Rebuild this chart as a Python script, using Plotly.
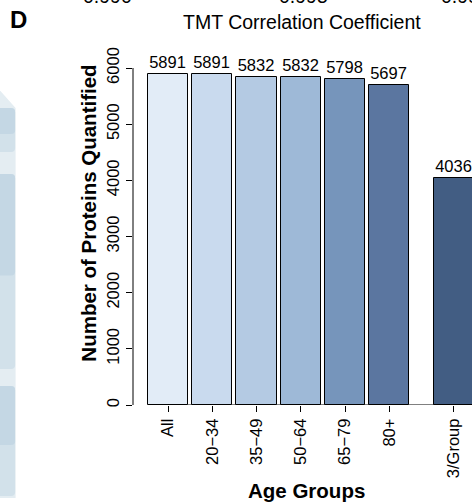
import plotly.graph_objects as go

# Proteins quantified per age group
groups = ["All", "20\u221234", "35\u221249", "50\u221264", "65\u221279", "80+", "3/Group"]
counts = [5891, 5891, 5832, 5832, 5798, 5697, 4036]
bar_colors = ["#E2ECF7", "#C9DAEE", "#B4CAE3", "#9EB9D7", "#7695BB", "#5B76A0", "#425D83"]
y_ticks = [0, 1000, 2000, 3000, 4000, 5000, 6000]

# cut-off axis labels of the panel above
upper_ticks = ["0.990", "0.995", "0.999"]

W, H = 472, 502
L, R, T, B = 133.3, 0, 60, 97
PLOT_W = W - L - R
PLOT_H = H - T - B
FONT = "Liberation Sans, Arial, sans-serif"

# barplot-style positions: unit-width bars, 0.1 spacing, wider gap before the last bar
xpos = []
left = 0.0
for i in range(len(groups)):
    left += 0.6 if i == len(groups) - 1 else 0.1
    xpos.append(left + 0.5)
    left += 1.0

px_per_unit = 40.2
x0 = xpos[0] - (168.3 - L) / px_per_unit
x1 = x0 + PLOT_W / px_per_unit
y_top = 6000 * PLOT_H / (405 - 68)


def px(x, y):
    """Convert page pixels to paper coordinates."""
    return (x - L) / PLOT_W, (H - B - y) / PLOT_H


def rounded_rect(xa, ya, xb, yb, r):
    pts = [px(xa, ya), px(xb - r, ya), px(xb, ya + r), px(xb, yb - r), px(xb - r, yb), px(xa, yb)]
    (ax, ay), (bx, by), (cx, cy), (dx, dy), (ex, ey), (fx, fy) = pts
    cxx, cyy = px(xb, ya)
    dxx, dyy = px(xb, yb)
    return (f"M{ax},{ay} L{bx},{by} Q{cxx},{cyy} {cx},{cy} L{dx},{dy} "
            f"Q{dxx},{dyy} {ex},{ey} L{fx},{fy} Z")


fig = go.Figure()
fig.add_trace(go.Bar(
    x=xpos, y=counts, width=1.0,
    marker=dict(color=bar_colors, line=dict(color="black", width=1)),
    text=[str(c) for c in counts], textposition="outside",
    textfont=dict(family=FONT, size=16.5, color="black"),
    cliponaxis=False, showlegend=False,
))

shapes = []
# axis lines spanning the tick range
shapes.append(dict(type="line", xref="paper", yref="y", x0=0, x1=0, y0=0, y1=6000,
                   line=dict(color="black", width=1)))
shapes.append(dict(type="line", xref="x", yref="y", x0=xpos[0], x1=xpos[-1], y0=0, y1=0,
                   line=dict(color="black", width=1), layer="below"))

# edge of the neighbouring panel on the left
sx0, sy0 = px(0, 90)
sx1, sy1 = px(16, 108)
sx2, sy2 = px(16, 498)
sx3, sy3 = px(0, 498)
shapes.append(dict(type="path", xref="paper", yref="paper",
                   path=f"M{sx0},{sy0} L{sx1},{sy1} L{sx2},{sy2} L{sx3},{sy3} Z",
                   fillcolor="#E4EDF2", line=dict(width=0), layer="below"))
for ya, yb in [(108, 152), (174, 369), (386, 496)]:
    mid = (ya + yb) / 2
    shapes.append(dict(type="path", xref="paper", yref="paper",
                       path=rounded_rect(0, ya, 15.5, yb, 4),
                       fillcolor="#D2E1EA", line=dict(width=0), layer="below"))
    shapes.append(dict(type="path", xref="paper", yref="paper",
                       path=rounded_rect(0, ya, 15.5, mid + 4, 4),
                       fillcolor="#C1D5E2", line=dict(width=0), layer="below", opacity=0.8))

annotations = []


def add_text(text, x, y, size, bold=False, angle=0, xanchor="center", yanchor="middle"):
    ax, ay = px(x, y)
    annotations.append(dict(
        text=f"<b>{text}</b>" if bold else text, x=ax, y=ay, xref="paper", yref="paper",
        showarrow=False, textangle=angle, xanchor=xanchor, yanchor=yanchor,
        font=dict(family=FONT, size=size, color="black"),
    ))


add_text("Number of Proteins Quantified", 88, 213, 20.5, bold=True, angle=-90)
add_text("Age Groups", 307, 490, 20.5, bold=True)
add_text("D", 19, 20, 24, bold=True)
add_text("TMT Correlation Coefficient", 302, 22, 19.5)
for lbl, cx in zip(upper_ticks, [108, 304, 466]):
    add_text(lbl, cx, 9, 19.5, yanchor="bottom")

fig.update_layout(
    width=W, height=H,
    margin=dict(l=L, r=R, t=T, b=B, pad=0),
    paper_bgcolor="white", plot_bgcolor="white",
    font=dict(family=FONT, size=16.5, color="black"),
    bargap=0,
    shapes=shapes, annotations=annotations,
    xaxis=dict(range=[x0, x1], tickvals=xpos, ticktext=groups, tickangle=-90,
               ticks="outside", ticklen=6, tickcolor="black", tickwidth=1,
               showgrid=False, zeroline=False, showline=False,
               tickfont=dict(family=FONT, size=16.5)),
    yaxis=dict(range=[0, y_top], tickvals=y_ticks, tickangle=-90,
               ticks="outside", ticklen=6, tickcolor="black", tickwidth=1,
               showgrid=False, zeroline=False, showline=False,
               tickfont=dict(family=FONT, size=16.5)),
)

fig.write_html("out.html")
